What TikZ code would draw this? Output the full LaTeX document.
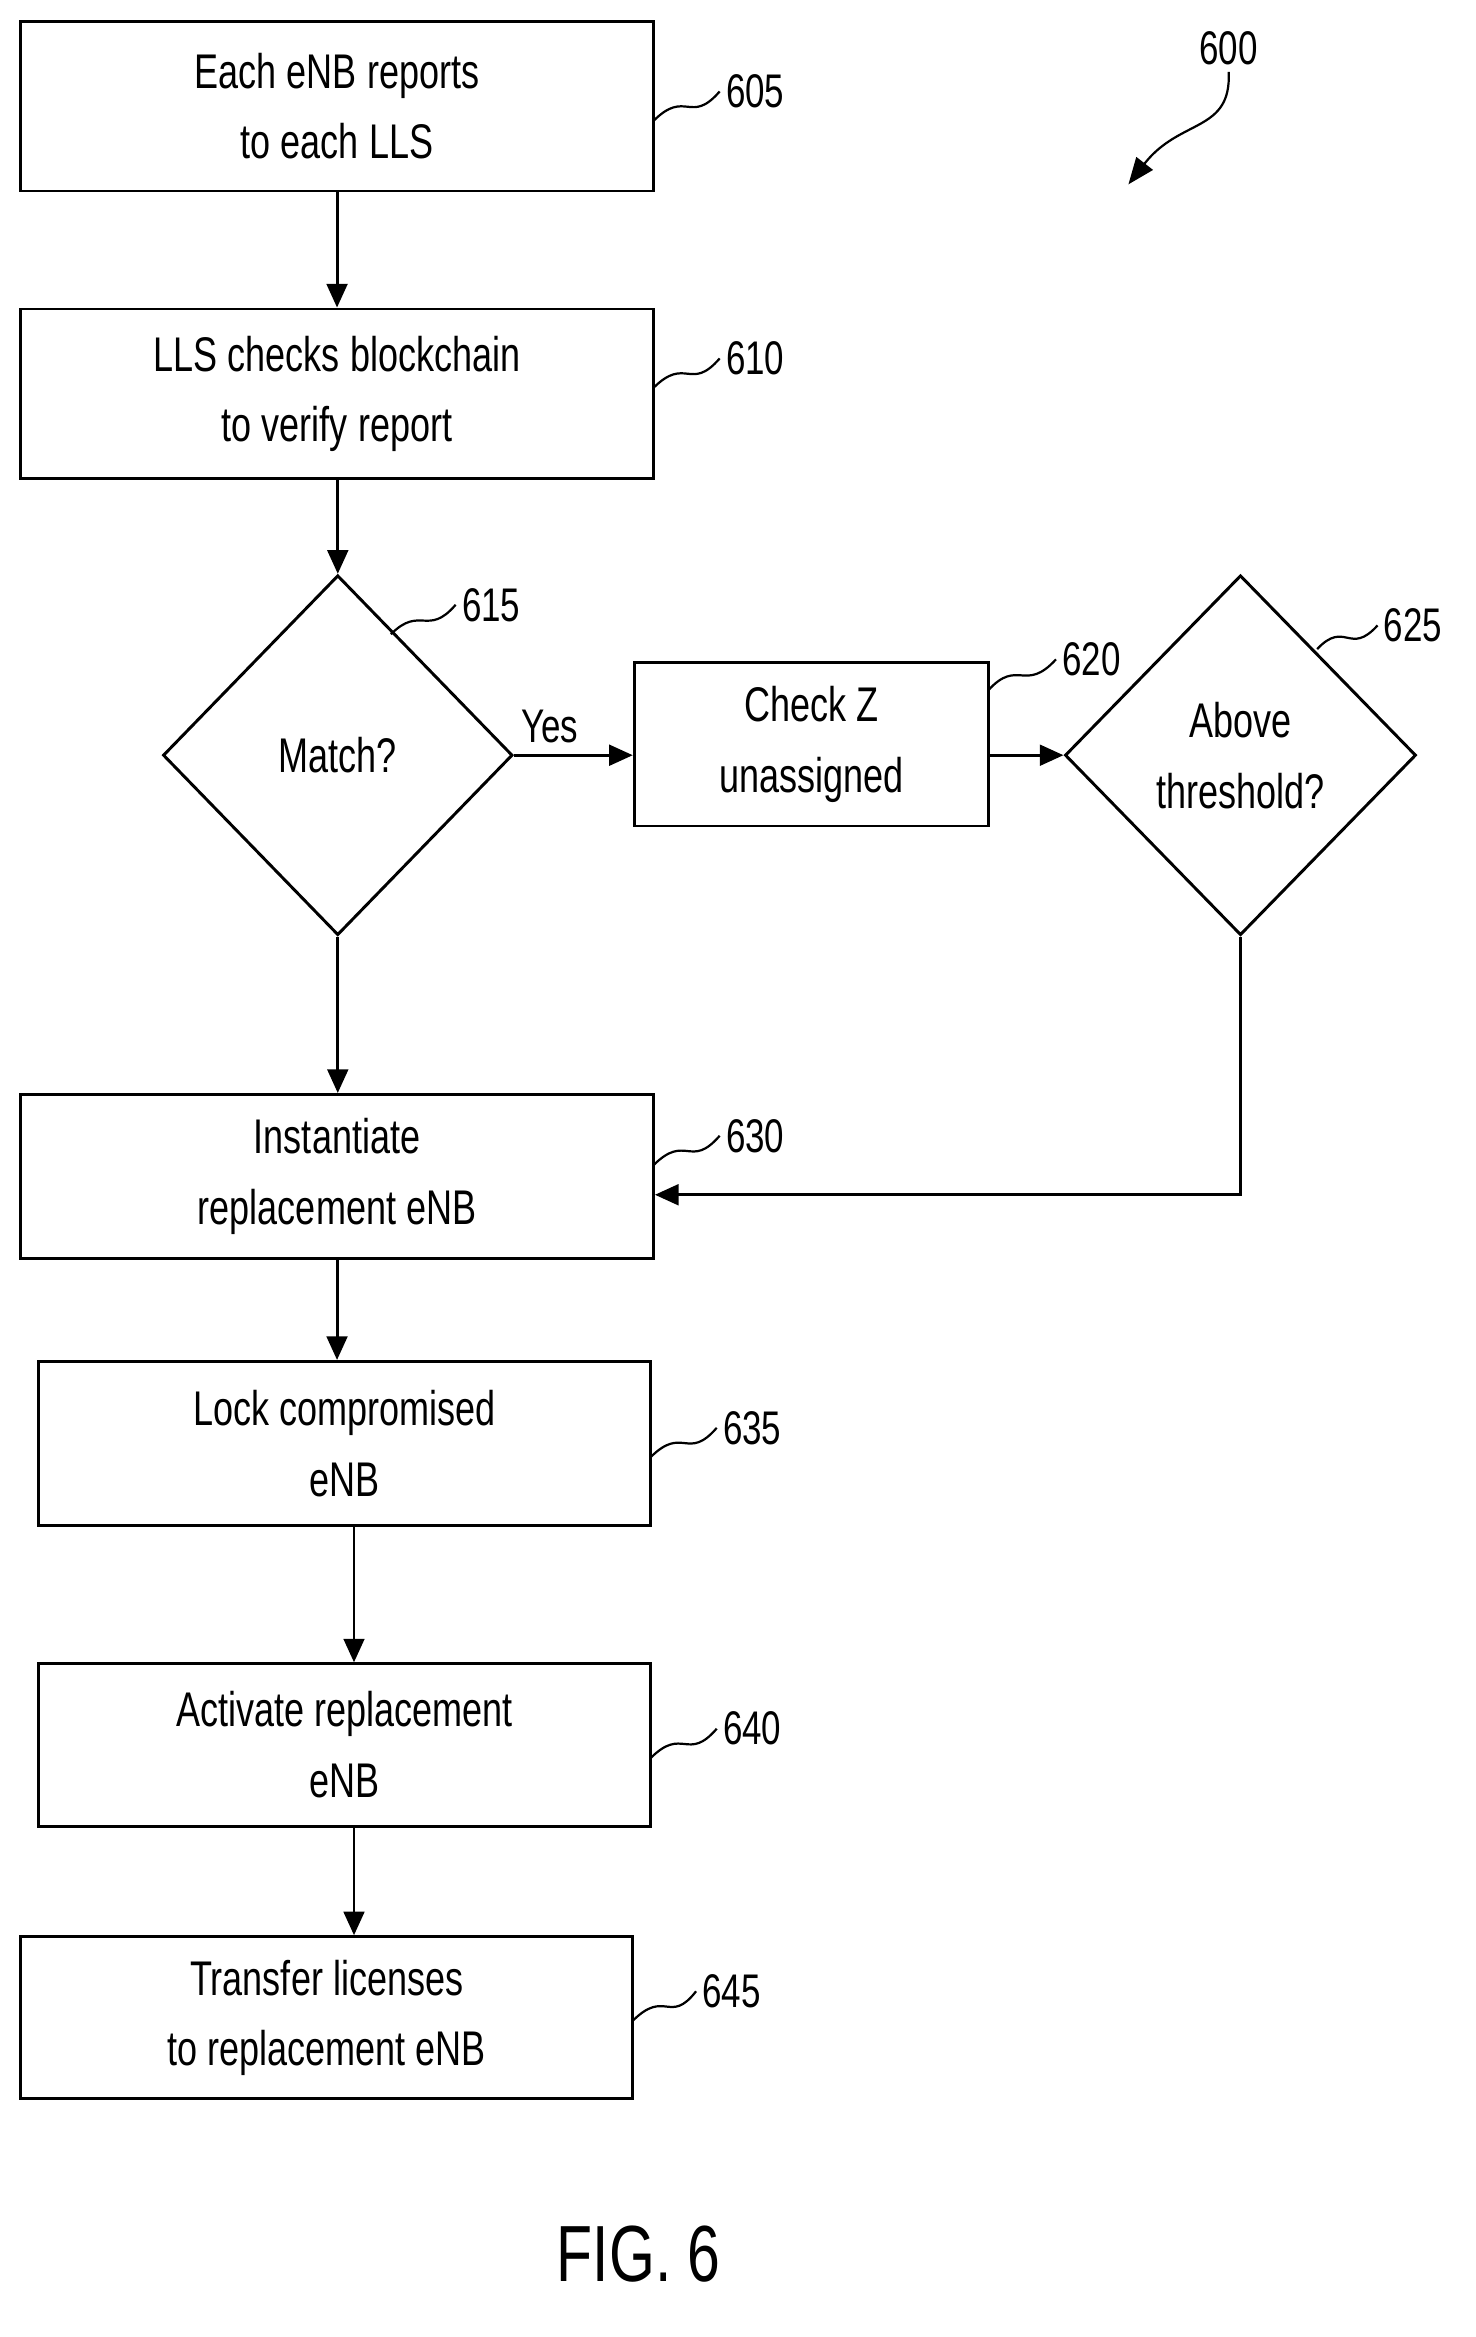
\documentclass[tikz,border=0pt]{standalone}
\usepackage{fontspec}
\setmainfont{Liberation Sans}[FakeStretch=0.74]
\usetikzlibrary{shapes.geometric,arrows.meta}
\begin{document}
\begin{tikzpicture}[x=1pt,y=-1pt,line width=2pt,
  box/.style={draw,minimum width=429pt,minimum height=115pt,align=center,font=\fontsize{33}{48}\selectfont},
  dia/.style={draw,diamond,minimum width=237pt,minimum height=244pt,inner sep=0pt,align=center,font=\fontsize{33}{48}\selectfont},
  lbl/.style={font=\fontsize{32}{36}\selectfont},
  arr/.style={-{Triangle[length=16pt,width=14pt]}},
  lead/.style={line width=1.5pt}]
\useasboundingbox (0,0) rectangle (1000,1584.4);
\node[box] (b605) at (228.5,72) {Each eNB reports\\to each LLS};
\node[box] (b610) at (228.5,267) {LLS checks blockchain\\to verify report};
\node[dia] (d615) at (229,512) {Match?};
\node[box,minimum width=240pt,minimum height=111pt] (b620) at (550,504.5) {Check Z\\unassigned};
\node[dia,minimum width=238pt] (d625) at (841,512) {Above\\threshold?};
\node[box,minimum height=111pt] (b630) at (228.5,797.5) {Instantiate\\replacement eNB};
\node[box,minimum width=415pt,minimum height=111pt] (b635) at (233.5,978.5) {Lock compromised\\eNB};
\node[box,minimum width=415pt,minimum height=110pt] (b640) at (233.5,1183) {Activate replacement\\eNB};
\node[box,minimum width=415pt,minimum height=110pt] (b645) at (221.5,1368) {Transfer licenses\\to replacement eNB};
\draw[arr] (b605.south) -- (b610.south |- b610.north);
\draw[arr] (d615.north |- b610.south) -- (d615.north);
\draw[arr] (d615.south) -- (b630.north -| d615.south);
\draw[arr] (d615.east) -- node[lbl,above=4pt,pos=0.3] {Yes} (b620.west |- d615.east);
\draw[arr] (b620.east |- d615.east) -- (d625.west);
\draw[arr] (d625.south) |- (b630.east |- 0,810);
\draw[arr] (b630.south) -- (b635.north -| b630.south);
\draw[arr] (240,1034) coordinate (c2) -- (b640.north -| c2);
\draw[arr] (240,1238) coordinate (c3) -- (b645.north -| c3);
\node[lbl] (l605) at (512,62) {605};
\node[lbl] (l610) at (512,243) {610};
\node[lbl] (l615) at (333,410) {615};
\node[lbl] (l620) at (740,447) {620};
\node[lbl] (l625) at (958,424) {625};
\node[lbl] (l630) at (512,770) {630};
\node[lbl] (l635) at (510,968) {635};
\node[lbl] (l640) at (510,1172) {640};
\node[lbl] (l645) at (496,1350) {645};
\node[lbl] (l600) at (833,33) {600};
\draw[lead] (443,82) .. controls (465,60) and (468,85) .. (l605.west);
\draw[lead] (443,263) .. controls (465,241) and (468,266) .. (l610.west);
\draw[lead] (265,430) .. controls (285,410) and (290,432) .. (l615.west);
\draw[lead] (670,468) .. controls (690,446) and (695,470) .. (l620.west);
\draw[lead] (893,440) .. controls (912,420) and (915,445) .. (l625.west);
\draw[lead] (443,790) .. controls (465,768) and (468,793) .. (l630.west);
\draw[lead] (441,988) .. controls (463,966) and (466,991) .. (l635.west);
\draw[lead] (441,1192) .. controls (463,1170) and (466,1195) .. (l640.west);
\draw[lead] (429,1370) .. controls (451,1348) and (454,1373) .. (l645.west);
\draw[lead,-{Triangle[length=18pt,width=14pt]}] (l600.south) .. controls (835,90) and (800,80) .. (765,125);
\node[font=\fontsize{54}{60}\selectfont] (fig) at (433,1528) {FIG. 6};
\end{tikzpicture}
\end{document}
